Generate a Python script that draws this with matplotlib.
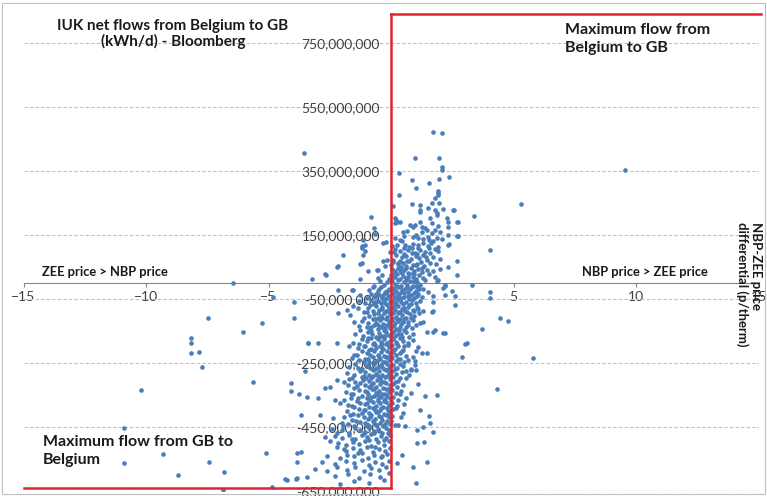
import matplotlib
matplotlib.use("Agg")
import matplotlib.pyplot as plt
from matplotlib.patches import Rectangle
from matplotlib.ticker import FuncFormatter

# Daily observations: (NBP-ZEE price differential in p/therm, IUK net flow in million kWh/d)
far_left = [
    (-6.44, 1), (-4.8, -43), (-3.96, -58), (-7.46, -110), (-5.25, -124), (-3.96, -110),
    (-6.03, -152), (-8.16, -173), (-8.16, -187), (-8.16, -218), (-7.84, -215), (-7.73, -263),
    (-3.38, -189), (-3.51, -274), (-5.64, -308), (-10.2, -334), (-4.09, -313), (-4.09, -337),
    (-3.74, -347), (-3.44, -355), (-3.69, -413), (-10.9, -452), (-9.32, -534), (-10.9, -564),
    (-7.43, -558), (-8.71, -600), (-6.82, -592), (-5.11, -530), (-3.85, -530), (-3.69, -527),
    (-3.85, -558), (-4.33, -613), (-3.85, -610), (-3.44, -605), (-6.87, -647), (-4.87, -638),
    (-4.26, -616), (-3.88, -613), (-3.55, 406), (-3.21, 12), (-2.69, 27), (-2.65, 26),
    (-2.9, -413), (-3.38, -188), (-2.97, -188), (-2.7, -328), (-2.97, -359), (-2.5, -325),
]

far_right = [
    (9.55, 353), (5.3, 246), (4.04, 103), (3.39, 210), (4.04, -27), (4.04, -48), (3.29, -6),
    (4.45, -110), (4.79, -118), (3.7, -145), (3.02, -191), (2.88, -230), (4.31, -332),
    (5.8, -235), (3.09, -187), (2.75, 147), (2.68, 192), (2.71, 147), (2.68, 68), (2.68, 26),
    (2.61, -42), (2.61, -68), (2.48, -26), (2.57, 228), (2.54, 228), (2.75, 192),
]

upper_cluster = [
    (1.70, 473), (2.07, 468), (0.98, 390), (1.97, 392), (2.07, 363), (2.07, 353), (0.33, 345),
    (2.37, 332), (0.87, 322), (1.55, 312), (1.97, 324), (1.02, 296), (1.93, 288), (1.93, 280),
    (1.93, 275), (0.33, 275), (1.8, 265), (1.66, 251), (1.96, 249), (0.84, 246), (1.18, 244),
    (1.18, 228), (1.2, 223), (1.49, 233), (1.8, 228), (1.87, 218), (1.89, 213), (2.11, 231),
    (0.1, 241), (-0.83, 205), (-0.68, 171), (0.2, 197), (0.37, 192), (0.16, 187), (0.78, 181),
    (0.98, 181), (0.91, 176), (1.18, 192), (1.25, 176), (1.39, 171), (1.59, 202), (1.66, 187),
    (1.93, 178), (2.27, 202), (2.34, 192), (2.34, 176), (0.16, 202), (0.23, 192),
    (-1.2, 116), (-1.2, 108), (-1.06, 101), (-0.31, 126),
    (-0.65, 153), (0.67, 162), (1.46, 167), (1.66, 156), (1.8, 167), (2.34, 151),
    (0.5, 158), (1.0, 150), (1.25, 160), (2.0, 160), (1.1, 140), (1.5, 145),
    (0.37, 135), (1.73, 130), (1.86, 141), (0.9, 145), (1.3, 138), (0.55, 148), (1.55, 133),
    (2.1, 137), (0.15, 142), (-0.2, 127),
    (0.57, 120), (0.91, 122), (1.12, 109), (1.32, 125), (1.52, 115), (2.38, 122), (0.25, 118),
    (0.75, 112), (1.9, 114), (2.34, 119), (-1.06, 120), (-1.13, 135), (1.65, 124), (0.05, 115),
    (0.71, 104), (0.98, 94), (1.39, 97), (1.8, 107), (1.93, 99), (0.35, 100), (0.55, 92),
    (1.2, 103), (1.6, 95), (0.12, 96), (-0.04, 98), (0.85, 108),
    (0.2, 88), (0.45, 80), (0.62, 85), (0.8, 75), (1.0, 83), (1.15, 78), (1.3, 88), (1.48, 72),
    (1.7, 82), (2.0, 76), (0.08, 72), (-0.18, 72), (-1.13, 86), (-1.95, 86), (0.35, 70), (1.05, 90),
    (0.1, 65), (0.28, 58), (0.48, 62), (0.6, 52), (0.75, 68), (0.9, 56), (1.05, 60), (1.22, 66),
    (1.35, 54), (1.6, 62), (1.85, 58), (2.34, 49), (-0.31, 68), (-0.24, 52), (-1.2, 62),
    (-2.15, 52), (-1.27, 58), (0.02, 55), (0.4, 50),
    (0.05, 45), (0.18, 38), (0.3, 48), (0.42, 35), (0.55, 42), (0.68, 32), (0.8, 46), (0.95, 38),
    (1.1, 44), (1.25, 34), (1.45, 40), (1.7, 36), (2.0, 44), (-0.52, 42), (-0.93, 36), (-0.58, 41),
    (-2.2, 49), (0.12, 30), (0.62, 47), (0.88, 30),
    (0.02, 25), (0.15, 18), (0.25, 28), (0.38, 12), (0.5, 22), (0.62, 15), (0.75, 27), (0.88, 20),
    (1.02, 12), (1.15, 24), (1.3, 16), (1.55, 28), (1.8, 20), (-0.38, 26), (-0.52, 15),
    (-1.27, 12), (0.45, 30), (0.95, 28), (-0.1, 14),
    (0.08, 20), (0.3, 62), (0.55, 110), (0.7, 18), (0.85, 95), (1.1, 120), (1.25, 48),
    (1.42, 82), (0.18, 105), (0.45, 130), (1.0, 55), (0.65, 70), (1.55, 108), (0.35, 40),
    (0.95, 5), (1.15, -18),
]

middle_cluster = [
    (0.05, 5), (0.18, -2), (0.3, 8), (0.4, -8), (0.52, 2), (0.65, -5), (0.78, 6), (0.9, -8),
    (1.05, 3), (1.2, -6), (1.4, 8), (1.86, 5), (2.2, -5), (1.93, 9), (2.2, -9), (-0.15, 2),
    (-0.3, -5), (-0.45, 7), (-0.7, -8), (0.25, -9), (0.6, 10), (1.0, -10),
    (0.08, -15), (0.2, -25), (0.33, -12), (0.45, -22), (0.58, -18), (0.7, -28), (0.85, -14),
    (1.0, -24), (1.12, -12), (1.3, -20), (1.5, -28), (2.13, -16), (-0.1, -18), (-0.25, -28),
    (-0.4, -14), (-0.55, -24), (-0.72, -12), (-0.9, -22), (-1.6, -21), (-2.18, -21),
    (-1.54, -22), (0.15, -29), (0.65, -11),
    (0.05, -35), (0.18, -45), (0.3, -38), (0.42, -48), (0.55, -32), (0.68, -42), (0.8, -36),
    (0.95, -46), (1.1, -33), (1.25, -44), (1.73, -42), (2.2, -37), (-0.08, -40), (-0.2, -32),
    (-0.35, -46), (-0.5, -36), (-0.65, -44), (-0.8, -34), (-1.0, -48), (-1.25, -38),
    (0.25, -50), (0.75, -50),
    (0.12, -20), (0.38, -30), (0.52, -44), (0.78, -19), (0.92, -31), (-0.15, -26),
    (-0.32, -38), (-0.48, -20), (-0.62, -33), (-0.18, -47), (0.28, -41), (1.05, -40),
    (0.1, -55), (0.22, -62), (0.35, -52), (0.48, -66), (0.6, -58), (0.72, -68), (0.85, -54),
    (1.0, -63), (1.2, -56), (1.73, -58), (-0.05, -60), (-0.18, -68), (-0.3, -54), (-0.42, -64),
    (-0.55, -57), (-0.68, -66), (-0.8, -52), (-1.05, -61), (-1.3, -56), (0.15, -70), (-0.25, -51),
    (0.05, -75), (0.18, -85), (0.3, -72), (0.45, -80), (0.58, -88), (0.7, -76), (0.88, -84),
    (1.05, -74), (1.3, -88), (1.66, -90), (1.73, -86), (-0.1, -78), (-0.22, -88), (-0.35, -74),
    (-0.48, -84), (-0.6, -72), (-0.75, -86), (-0.95, -78), (-1.33, -78), (-1.54, -73),
    (-1.81, -83), (0.38, -90),
    (0.02, -63), (0.14, -80), (0.27, -93), (0.4, -58), (0.54, -77), (0.66, -92), (0.82, -66),
    (0.95, -87), (-0.12, -88), (-0.26, -61), (-0.38, -82), (-0.52, -95), (-0.64, -58),
    (-0.86, -70), (-1.0, -90), (1.12, -80),
    (0.08, -95), (0.2, -105), (0.32, -92), (0.46, -100), (0.6, -108), (0.78, -96), (0.95, -104),
    (1.15, -94), (-0.05, -98), (-0.18, -106), (-0.3, -94), (-0.42, -102), (-0.55, -110),
    (-0.7, -96), (-0.88, -104), (-1.1, -92), (-1.67, -99), (-2.15, -94),
    (0.05, -115), (0.15, -125), (0.28, -118), (0.4, -128), (0.55, -112), (0.7, -122),
    (0.9, -116), (1.2, -126), (1.32, -121), (-0.08, -120), (-0.2, -112), (-0.33, -128),
    (-0.45, -116), (-0.6, -124), (-0.75, -114), (-0.92, -126), (-1.2, -118), (-1.5, -122),
    (0.35, -111),
    (0.03, -108), (0.12, -130), (0.24, -112), (0.34, -146), (0.48, -122), (0.62, -138),
    (0.8, -108), (1.0, -132), (-0.1, -128), (-0.25, -140), (-0.38, -108), (-0.52, -130),
    (-0.66, -112), (-0.8, -138), (-1.1, -110), (-1.25, -146),
    (0.1, -135), (0.22, -145), (0.38, -138), (0.52, -148), (0.68, -132), (0.85, -142),
    (1.46, -152), (-0.05, -140), (-0.18, -132), (-0.3, -148), (-0.42, -136), (-0.55, -144),
    (-0.7, -132), (-0.85, -146), (-1.0, -138), (-1.3, -134), (1.8, -147), (-0.25, -150),
    (0.05, -155), (0.18, -165), (0.3, -158), (0.45, -168), (0.62, -152), (0.91, -160),
    (2.2, -157), (2.13, -157), (1.73, -152), (-0.08, -162), (-0.2, -154), (-0.35, -166),
    (-0.48, -156), (-0.62, -170), (-0.78, -160), (-0.95, -152), (-1.15, -166), (-1.45, -158),
    (0.08, -175), (0.2, -185), (0.35, -172), (0.5, -182), (0.91, -178), (0.7, -188),
    (-0.05, -180), (-0.15, -188), (-0.28, -174), (-0.4, -184), (-0.55, -176), (-0.68, -186),
    (-0.82, -172), (-1.0, -182), (-1.2, -176), (-1.55, -188), (-2.2, -188),
    (0.02, -168), (0.12, -150), (0.26, -190), (0.4, -160), (0.55, -196), (0.75, -170),
    (-0.1, -196), (-0.24, -166), (-0.38, -190), (-0.5, -168), (-0.66, -194), (-0.8, -150),
    (-0.95, -172), (-1.3, -192), (-1.05, -196),
    (0.05, -195), (0.15, -205), (0.3, -198), (0.48, -208), (0.7, -194), (1.1, -200),
    (-0.08, -200), (-0.2, -192), (-0.32, -206), (-0.45, -196), (-0.6, -204), (-0.75, -192),
    (-0.9, -208), (-1.1, -198), (-1.35, -204), (-1.7, -196),
    (0.08, -215), (0.2, -225), (0.38, -218), (0.6, -228), (1.0, -212), (1.46, -220),
    (1.25, -219), (-0.05, -220), (-0.18, -212), (-0.3, -228), (-0.42, -216), (-0.55, -224),
    (-0.7, -214), (-0.85, -226), (-1.0, -218), (-1.2, -212), (-1.5, -224),
    (0.02, -228), (0.1, -208), (0.28, -238), (0.45, -214), (0.7, -242), (-0.12, -230),
    (-0.26, -248), (-0.38, -204), (-0.5, -232), (-0.65, -246), (-0.8, -206), (-0.95, -236),
    (-1.12, -248), (-1.38, -226),
    (0.05, -235), (0.2, -245), (0.35, -238), (0.55, -248), (0.9, -232), (0.98, -245),
    (-0.08, -240), (-0.2, -232), (-0.32, -248), (-0.45, -236), (-0.58, -244), (-0.72, -232),
    (-0.88, -246), (-1.05, -238), (-1.3, -242), (-1.6, -234),
]

lower_cluster = [
    (0.1, -255), (0.25, -265), (0.5, -258), (0.8, -268), (0.98, -255), (-0.05, -260),
    (-0.18, -252), (-0.3, -268), (-0.42, -256), (-0.55, -264), (-0.7, -252), (-0.85, -266),
    (-1.0, -258), (-1.2, -268), (-1.45, -254), (-1.7, -262), (0.35, -252),
    (0.05, -275), (0.2, -285), (0.45, -278), (0.75, -288), (0.8, -273), (-0.08, -280),
    (-0.2, -272), (-0.35, -288), (-0.48, -276), (-0.6, -284), (-0.75, -272), (-0.9, -286),
    (-1.05, -278), (-1.25, -274), (-1.5, -286), (-1.8, -280), (1.0, -272),
    (0.02, -290), (0.15, -270), (0.35, -296), (0.6, -274), (-0.12, -268), (-0.25, -294),
    (-0.38, -262), (-0.52, -290), (-0.66, -270), (-0.8, -298), (-0.95, -255), (-1.12, -290),
    (-1.35, -266), (-1.6, -296),
    (0.1, -295), (0.3, -305), (0.6, -298), (-0.05, -300), (-0.18, -292), (-0.3, -308),
    (-0.45, -296), (-0.58, -304), (-0.72, -292), (-0.88, -306), (-1.02, -298), (-1.2, -294),
    (-1.45, -308), (-1.7, -300), (-2.2, -302),
    (0.08, -315), (0.25, -325), (0.5, -318), (-0.05, -320), (-0.2, -312), (-0.32, -328),
    (-0.45, -316), (-0.6, -324), (-0.75, -312), (-0.9, -326), (-1.05, -318), (-1.25, -314),
    (-1.5, -328), (-1.75, -320), (1.1, -315),
    (0.02, -330), (0.18, -310), (0.35, -348), (-0.12, -332), (-0.25, -346), (-0.4, -306),
    (-0.52, -350), (-0.68, -330), (-0.82, -318), (-0.98, -340), (-1.15, -302), (-1.38, -322),
    (-1.62, -346), (-1.9, -310),
    (0.05, -335), (0.2, -345), (0.4, -338), (-0.08, -340), (-0.22, -332), (-0.35, -348),
    (-0.48, -336), (-0.62, -344), (-0.78, -332), (-0.92, -346), (-1.08, -338), (-1.3, -334),
    (-1.55, -348), (-1.85, -340), (0.8, -345), (1.39, -352), (1.86, -350),
    (0.1, -355), (0.3, -365), (-0.05, -360), (-0.18, -352), (-0.3, -368), (-0.42, -356),
    (-0.55, -364), (-0.7, -352), (-0.85, -366), (-1.0, -358), (-1.2, -354), (-1.4, -368),
    (-1.65, -360), (-2.3, -365), (0.6, -358),
    (0.02, -370), (0.2, -392), (-0.12, -396), (-0.26, -362), (-0.4, -390), (-0.52, -368),
    (-0.66, -398), (-0.8, -356), (-0.96, -376), (-1.12, -396), (-1.35, -360), (-1.6, -384),
    (-1.9, -366),
    (0.05, -375), (0.25, -385), (-0.08, -380), (-0.2, -372), (-0.33, -388), (-0.46, -376),
    (-0.6, -384), (-0.74, -372), (-0.9, -386), (-1.05, -378), (-1.25, -374), (-1.5, -388),
    (-1.75, -380), (-2.1, -376), (0.55, -378),
    (0.1, -395), (-0.05, -400), (-0.18, -392), (-0.3, -408), (-0.45, -396), (-0.6, -404),
    (-0.75, -392), (-0.9, -406), (-1.08, -398), (-1.3, -394), (-1.55, -408), (-1.8, -400),
    (0.5, -405), (1.2, -398),
    (0.02, -432), (-0.12, -408), (-0.25, -440), (-0.4, -420), (-0.55, -404), (-0.7, -438),
    (-0.85, -418), (-1.0, -446), (-1.18, -406), (-1.42, -430), (-1.68, -412), (-1.95, -446),
    (0.05, -415), (-0.08, -420), (-0.22, -412), (-0.35, -428), (-0.5, -416), (-0.65, -424),
    (-0.8, -412), (-0.95, -426), (-1.12, -418), (-1.35, -414), (-1.6, -428), (-1.9, -420),
    (-2.36, -423), (0.4, -420), (1.55, -415),
    (-0.05, -440), (-0.18, -432), (-0.32, -448), (-0.45, -436), (-0.6, -444), (-0.75, -432),
    (-0.9, -446), (-1.05, -438), (-1.25, -434), (-1.5, -448), (-1.75, -440), (-2.0, -436),
    (0.3, -445), (1.59, -438), (1.32, -449), (0.57, -447), (0.16, -444),
    (-0.08, -460), (-0.22, -452), (-0.38, -468), (-0.55, -456), (-0.7, -464), (-0.88, -452),
    (-1.05, -466), (-1.25, -458), (-1.45, -454), (-1.7, -468), (-2.0, -460), (-2.4, -456),
    (1.05, -459), (1.7, -465),
    (-0.12, -470), (-0.3, -492), (-0.48, -462), (-0.65, -512), (-0.9, -490), (-1.1, -470),
    (-1.35, -530), (-1.6, -488), (-1.9, -520), (-0.35, -540), (-0.7, -470), (-2.2, -470),
    (-0.05, -475), (-0.2, -485), (-0.4, -478), (-0.6, -488), (-0.8, -472), (-1.0, -482),
    (-1.2, -476), (-1.45, -486), (-1.7, -474), (-2.0, -484), (-2.3, -478), (-2.7, -482),
    (-0.1, -495), (-0.3, -505), (-0.55, -498), (-0.8, -508), (-1.05, -494), (-1.3, -504),
    (-1.55, -496), (-1.85, -506), (-2.15, -500), (-2.5, -494), (1.05, -499), (1.35, -496),
    (-0.05, -515), (-0.25, -525), (-0.5, -518), (-0.75, -528), (-1.0, -512), (-1.25, -522),
    (-1.55, -516), (-1.85, -526), (-2.2, -514),
    (-0.15, -535), (-0.4, -545), (-0.7, -538), (-0.95, -548), (-1.2, -532), (-1.5, -542),
    (-1.8, -536), (-2.1, -546), (-2.6, -540), (0.45, -538),
    (-0.1, -555), (-0.35, -565), (-0.65, -558), (-0.9, -568), (-1.2, -552), (-1.5, -562),
    (-1.85, -556), (-2.3, -566), (-2.8, -558), (0.23, -564), (1.45, -560),
    (-0.2, -575), (-0.5, -585), (-0.8, -578), (-1.1, -588), (-1.45, -574), (-1.8, -584),
    (-2.2, -576), (-2.6, -586), (-3.1, -580), (0.91, -574),
    (-0.1, -595), (-0.45, -605), (-0.85, -598), (-1.3, -608), (-1.75, -596), (-2.3, -604),
    (-0.3, -615), (-0.9, -625), (-1.5, -618), (-2.1, -628), (1.02, -626),
]

# Interconnector capacity limits (million kWh/d)
max_flow_to_gb = 840
max_flow_to_belgium = -640

x_ticks = [-15, -10, -5, 0, 5, 10, 15]
y_ticks = [-650, -450, -250, -50, 150, 350, 550, 750]
MILLION = 1e6

points = far_left + far_right + upper_cluster + middle_cluster + lower_cluster
price_diff = [p[0] for p in points]
net_flow = [p[1] * MILLION for p in points]

plt.rcParams['font.family'] = ['Lato', 'DejaVu Sans']

W, H = 767, 496
fig = plt.figure(figsize=(W / 100, H / 100), dpi=100)
ax = fig.add_axes([23.5 / W, 1 - 491 / H, 735 / W, 480 / H])

ax.set_xlim(-15, 15)
ax.set_ylim(-650 * MILLION, 850 * MILLION)
ax.set_xticks(x_ticks)
ax.set_yticks([v * MILLION for v in y_ticks])
ax.yaxis.set_major_formatter(FuncFormatter(lambda v, _: f"{v:,.0f}"))

for s in ('top', 'right'):
    ax.spines[s].set_visible(False)
ax.spines['left'].set_position(('data', 0))
ax.spines['left'].set_visible(False)
ax.spines['bottom'].set_position(('data', 0))
ax.spines['bottom'].set_color('#868686')
ax.spines['bottom'].set_linewidth(0.8)

ax.tick_params(axis='x', direction='out', length=3, width=0.8, color='#868686',
               labelsize=10, labelcolor='#404040', pad=3)
ax.tick_params(axis='y', length=0, labelsize=10, labelcolor='#404040', pad=8)

ax.grid(axis='y', color='#BFBFBF', linestyle=(0, (3, 2)), linewidth=0.8)
ax.set_axisbelow(True)

ax.scatter(price_diff, net_flow, s=11, color='#4A7EBB', linewidths=0, zorder=3)

red = '#E3232C'
ax.plot([0, 0], [max_flow_to_belgium * MILLION, max_flow_to_gb * MILLION],
        color=red, lw=1.8, zorder=4, clip_on=False)
ax.plot([0, 15.1], [max_flow_to_gb * MILLION] * 2, color=red, lw=1.8, zorder=4, clip_on=False)
ax.plot([-15, 0], [max_flow_to_belgium * MILLION] * 2, color=red, lw=1.8, zorder=4,
        clip_on=False)


def fx(px):
    return px / W


def fy(py):
    return 1 - py / H


fig.text(fx(173), fy(34), "IUK net flows from Belgium to GB\n(kWh/d) - Bloomberg",
         ha='center', va='center', fontsize=11, fontweight='bold', color='#1a1a1a',
         linespacing=1.15)
fig.text(fx(565), fy(39), "Maximum flow from\nBelgium to GB", ha='left', va='center',
         fontsize=11.5, fontweight='bold', color='#1a1a1a', linespacing=1.35)
fig.text(fx(43), fy(451), "Maximum flow from GB to\nBelgium", ha='left', va='center',
         fontsize=11.5, fontweight='bold', color='#1a1a1a', linespacing=1.35)
fig.text(fx(42), fy(272), "ZEE price > NBP price", ha='left', va='center',
         fontsize=9.3, fontweight='bold', color='#1a1a1a')
fig.text(fx(582), fy(272), "NBP price > ZEE price", ha='left', va='center',
         fontsize=9.3, fontweight='bold', color='#1a1a1a')
fig.text(fx(749), fy(222), "NBP-ZEE price\ndifferential (p/therm)", rotation=270,
         ha='center', va='top', multialignment='left', fontsize=9.5, fontweight='bold',
         color='#1a1a1a', linespacing=1.15)

fig.patches.append(Rectangle((2 / W, 2 / H), 763 / W, 491 / H, transform=fig.transFigure,
                             fill=False, edgecolor='#BFBFBF', linewidth=0.8))

fig.savefig('out.png', dpi=100)
